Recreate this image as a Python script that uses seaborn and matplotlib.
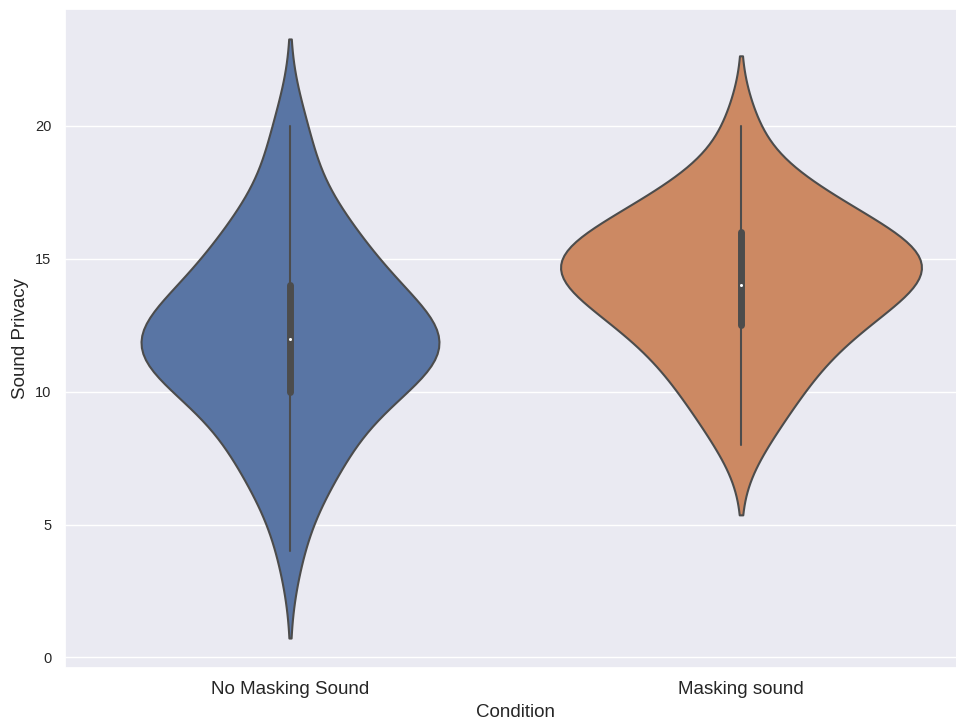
import matplotlib
matplotlib.use("Agg")
import matplotlib.pyplot as plt
import pandas as pd
import seaborn as sns

# Sound privacy scores per participant under each condition
conditions = ["No Masking Sound", "Masking sound"]
no_masking_scores = [4, 6, 7, 7, 8, 8, 9, 9, 10, 10, 10,
                     11, 11, 11, 11, 11, 11, 12, 12, 12, 12, 12, 12, 12,
                     13, 13, 13, 13, 14, 14, 14, 15, 15, 15,
                     16, 16, 17, 17, 19, 20]
masking_scores = [8, 9, 10, 10, 11, 11, 12, 12, 12, 13, 13, 13, 13,
                  14, 14, 14, 14, 14, 15, 15, 15, 15, 15, 15, 15,
                  16, 16, 16, 16, 17, 17, 17, 18, 18, 20]

df = pd.DataFrame({
    "Condition": [conditions[0]] * len(no_masking_scores)
                 + [conditions[1]] * len(masking_scores),
    "Sound Privacy": no_masking_scores + masking_scores,
})

sns.set_theme(style="darkgrid")
plt.rcParams["font.family"] = ["Liberation Sans", "DejaVu Sans"]

fig = plt.figure(figsize=(9.56, 7.22), dpi=100)
ax = fig.add_axes([64.5 / 956, 54 / 722, 902 / 956, 659 / 722])

sns.violinplot(data=df, x="Condition", y="Sound Privacy", hue="Condition",
               order=conditions, palette="deep", saturation=0.75,
               density_norm="area", common_norm=True,
               linewidth=1.5, inner="box",
               inner_kws=dict(box_width=5, whis_width=1.5), ax=ax)

# round the inner box ends and show the median as a small white dot
for line in ax.lines:
    line.set_solid_capstyle("round")
    if line.get_marker() not in (None, "", "None"):
        line.set_marker("o")
        line.set_markersize(2.2)
        line.set_markeredgewidth(0)
        line.set_markerfacecolor("white")

ax.tick_params(axis="y", labelsize=10.5)
ax.tick_params(axis="x", labelsize=13.5)
ax.set_xlabel("Condition", fontsize=13.5)
ax.set_ylabel("Sound Privacy", fontsize=13.5)

fig.savefig("out.png", dpi=100)
